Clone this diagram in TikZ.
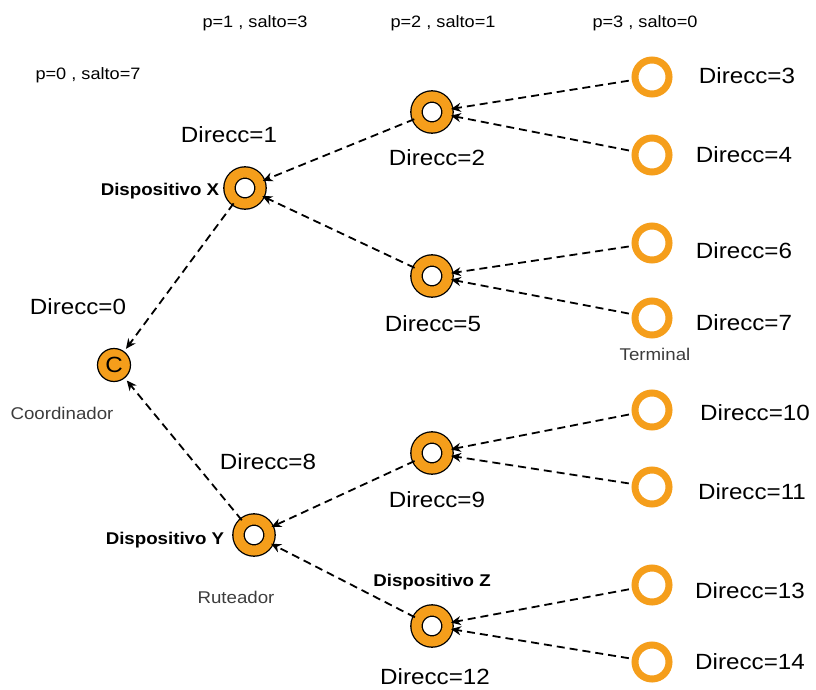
\documentclass[tikz,border=0pt]{standalone}
\usepackage{fontspec}
\setmainfont[FakeStretch=1.1]{Liberation Sans}
\usetikzlibrary{arrows.meta}
\definecolor{ring}{RGB}{245,158,27}
\definecolor{soft}{RGB}{60,60,60}
\tikzset{
  router/.style={circle, minimum size=31pt, inner sep=0pt, draw=black, line width=1.3pt, double=ring, double distance=10pt, fill=white},
  coord/.style={circle, minimum size=33pt, inner sep=0pt, draw=black, line width=1.2pt, fill=ring, font=\fontsize{22}{24}\selectfont},
  term/.style={circle, minimum size=34pt, inner sep=0pt, draw=ring, line width=7pt, fill=white},
  link/.style={dashed, dash pattern=on 8pt off 5pt, line width=1.8pt, -{Stealth[length=10pt,width=9pt]}, shorten >=3pt, shorten <=3pt},
  big/.style={font=\fontsize{22}{24}\selectfont},
  lvl/.style={font=\fontsize{16.5}{19}\selectfont},
  dev/.style={font=\bfseries\fontsize{17}{19}\selectfont},
  role/.style={font=\fontsize{17}{19}\selectfont, text=soft}
}
\begin{document}
\begin{tikzpicture}[x=1pt,y=-1pt]
\useasboundingbox (0,0) rectangle (816,690);
% routers
\node[coord] (c) at (114,365) {C};
\node[router] (x) at (245,188) {};
\node[router] (r2) at (432,112) {};
\node[router] (r5) at (432,276) {};
\node[router] (r9) at (432,453) {};
\node[router] (y) at (254,535) {};
\node[router] (z) at (432,626) {};
% terminals
\node[term] (t3) at (652,77) {};
\node[term] (t4) at (652,155) {};
\node[term] (t6) at (652,243) {};
\node[term] (t7) at (652,318) {};
\node[term] (t10) at (652,410) {};
\node[term] (t11) at (652,487) {};
\node[term] (t13) at (652,585) {};
\node[term] (t14) at (652,662) {};
% links
\draw[link] (t3) -- (r2);
\draw[link] (t4) -- (r2);
\draw[link] (t6) -- (r5);
\draw[link] (t7) -- (r5);
\draw[link] (t10) -- (r9);
\draw[link] (t11) -- (r9);
\draw[link] (t13) -- (z);
\draw[link] (t14) -- (z);
\draw[link] (r2) -- (x);
\draw[link] (r5) -- (x);
\draw[link] (r9) -- (y);
\draw[link] (z) -- (y);
\draw[link] (x) -- (c);
\draw[link] (y) -- (c);
% level labels
\node[lvl] (l0) at (88,75) {p=0 , salto=7};
\node[lvl] (l1) at (255,23) {p=1 , salto=3};
\node[lvl] (l2) at (443,23) {p=2 , salto=1};
\node[lvl] (l3) at (645,23) {p=3 , salto=0};
% address labels
\node[big] (a0) at (78,307) {Direcc=0};
\node[big] (a1) at (229,135) {Direcc=1};
\node[big] (a2) at (437,158) {Direcc=2};
\node[big] (a5) at (433,324) {Direcc=5};
\node[big] (a8) at (268,462) {Direcc=8};
\node[big] (a9) at (437,500) {Direcc=9};
\node[big] (a12) at (435,677) {Direcc=12};
\node[big] (a3) at (747,76) {Direcc=3};
\node[big] (a4) at (744,155) {Direcc=4};
\node[big] (a6) at (744,251) {Direcc=6};
\node[big] (a7) at (744,323) {Direcc=7};
\node[big] (a10) at (755,413) {Direcc=10};
\node[big] (a11) at (752,492) {Direcc=11};
\node[big] (a13) at (750,591) {Direcc=13};
\node[big] (a14) at (750,662) {Direcc=14};
% device / role labels
\node[dev] (dx) at (160,191) {Dispositivo X};
\node[dev] (dy) at (165,540) {Dispositivo Y};
\node[dev] (dz) at (432,582) {Dispositivo Z};
\node[role] (rc) at (62,413) {Coordinador};
\node[role] (rr) at (236,597) {Ruteador};
\node[role] (rt) at (655,354) {Terminal};
\end{tikzpicture}
\end{document}
